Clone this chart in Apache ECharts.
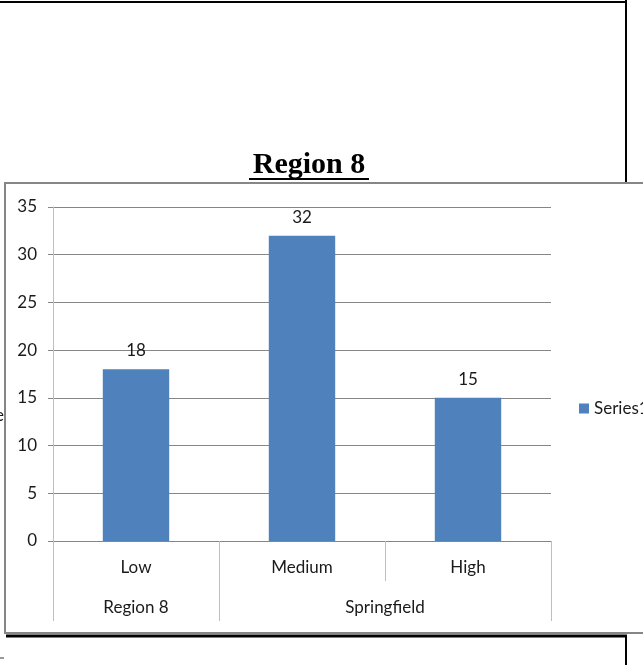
<!DOCTYPE html>
<html>
<head>
<meta charset="utf-8">
<script src="https://cdn.jsdelivr.net/npm/echarts@6/dist/echarts.min.js"></script>
<style>
  html, body { margin: 0; padding: 0; background: #fff; }
  #chart { width: 643px; height: 665px; }
</style>
</head>
<body>
<div id="chart"></div>
<script>
// Counts by level, grouped by area
const chartTitle = 'Region 8';
const seriesName = 'Series1';
const levels = ['Low', 'Medium', 'High'];
const counts = [18, 32, 15];
const groupNames = ['Region 8', 'Springfield'];
const groupSpans = [1, 2];          // number of levels covered by each group
const yMin = 0, yMax = 35, yStep = 5;

// Second-level axis: 2 half-slots per level, points at every half-slot edge.
const halfSlots = [];
const groupEdges = new Set([0]);
for (let i = 0; i <= 2 * levels.length; i++) halfSlots.push('');
let start = 0;
groupNames.forEach((name, g) => {
  halfSlots[2 * start + groupSpans[g]] = name;
  start += groupSpans[g];
  groupEdges.add(2 * start);
});

const gridColor = '#868686';
const dividerColor = '#bfbfbf';
const textColor = '#1a1a1a';
const font = 'Lato';

const chart = echarts.init(document.getElementById('chart'), null, { renderer: 'canvas' });
chart.setOption({
  backgroundColor: '#ffffff',
  animation: false,
  graphic: [
    // page frame lines around the chart box
    { type: 'line', z: -5, shape: { x1: 0, y1: 2, x2: 627, y2: 2 }, style: { stroke: '#000', lineWidth: 2 } },
    { type: 'line', z: -5, shape: { x1: 626, y1: 0, x2: 626, y2: 183 }, style: { stroke: '#000', lineWidth: 2 } },
    { type: 'line', z: -5, shape: { x1: 6, y1: 636, x2: 627, y2: 636 }, style: { stroke: '#000', lineWidth: 3 } },
    { type: 'line', z: -5, shape: { x1: 626, y1: 635, x2: 626, y2: 665 }, style: { stroke: '#000', lineWidth: 2 } },
    { type: 'line', z: -5, shape: { x1: 0, y1: 658, x2: 4, y2: 658 }, style: { stroke: '#999', lineWidth: 2 } },
    { type: 'text', z: -5, style: { x: 4, y: 416, text: 'e', fill: textColor, font: '17px Lato', align: 'right', verticalAlign: 'middle' } },
    // chart box
    { type: 'rect', z: -4, shape: { x: 5, y: 183, width: 660, height: 450 }, style: { fill: '#fff', stroke: gridColor, lineWidth: 2 } },
    // title with underline
    { type: 'text', z: 5, style: { x: 309, y: 165, text: chartTitle, fill: '#000', font: 'bold 30px "Liberation Serif"', align: 'center', verticalAlign: 'middle' } },
    { type: 'line', z: 5, shape: { x1: 249, y1: 179, x2: 369, y2: 179 }, style: { stroke: '#000', lineWidth: 2 } }
  ],
  legend: {
    data: [seriesName],
    left: 579,
    top: 400,
    padding: 0,
    orient: 'vertical',
    icon: 'rect',
    itemWidth: 10,
    itemHeight: 10,
    itemGap: 6,
    textStyle: { fontFamily: font, fontSize: 17, color: textColor, padding: [0, 0, 0, 0] }
  },
  grid: { left: 53, right: 92, top: 207, bottom: 124, containLabel: false },
  xAxis: [
    {
      type: 'category',
      data: levels,
      position: 'bottom',
      axisLine: { show: true, lineStyle: { color: gridColor, width: 1 } },
      axisTick: { show: true, length: 40, interval: 0, lineStyle: { color: dividerColor } },
      axisLabel: { interval: 0, margin: 18, fontFamily: font, fontSize: 17, color: textColor },
      splitLine: { show: false }
    },
    {
      type: 'category',
      data: halfSlots,
      position: 'bottom',
      offset: 40,
      boundaryGap: false,
      axisLine: { show: false },
      axisTick: { show: true, length: 40, interval: (idx) => groupEdges.has(idx), lineStyle: { color: dividerColor } },
      axisLabel: { interval: 0, margin: 18, fontFamily: font, fontSize: 17, color: textColor },
      splitLine: { show: false }
    }
  ],
  yAxis: {
    type: 'value',
    min: yMin,
    max: yMax,
    interval: yStep,
    axisLine: { show: true, lineStyle: { color: dividerColor } },
    axisTick: { show: true, length: 5, lineStyle: { color: gridColor } },
    axisLabel: { margin: 16, fontFamily: font, fontSize: 17, color: textColor },
    splitLine: { show: true, lineStyle: { color: gridColor, width: 1 } }
  },
  series: [{
    name: seriesName,
    type: 'bar',
    data: counts,
    barWidth: '40%',
    itemStyle: { color: '#4f81bd' },
    label: { show: true, position: 'top', distance: 10, fontFamily: font, fontSize: 17, color: textColor }
  }]
});
</script>
</body>
</html>
